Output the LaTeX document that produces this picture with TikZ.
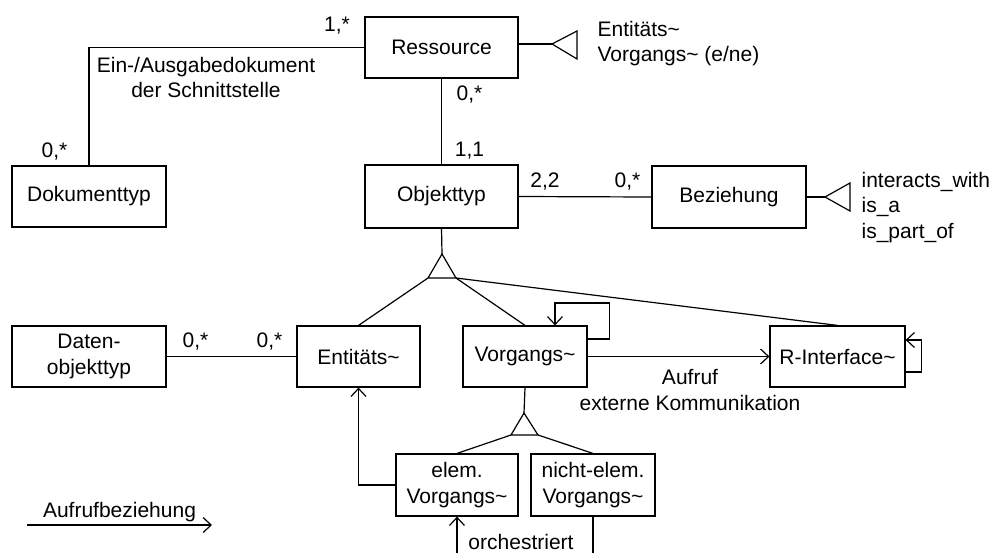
\documentclass[tikz,border=0pt]{standalone}
\usepackage{fontspec}
\setmainfont{Liberation Sans}
\usepackage{tikz}
\usetikzlibrary{arrows.meta,positioning,calc}

\begin{document}
\begin{tikzpicture}[x=1pt, y=-1pt, line width=1.2pt,
  font=\fontsize{21}{25.5}\selectfont,
  box/.style={draw, rectangle, inner sep=0pt, align=center, minimum height=61pt},
  lbl/.style={inner sep=0pt, align=center},
  call/.style={-{Straight Barb[length=8pt,width=15pt]}}]
\useasboundingbox (0,0) rectangle (995,552);
\clip (0,0) rectangle (995,552);

% Classes
\node[box, minimum width=153pt] (res) at (441.5,47.5) {Ressource};
\node[box, minimum width=154pt] (dok) at (89,196.5) {Dokumenttyp};
\node[box, minimum width=153pt, minimum height=63pt] (obj) at (441.5,196.5) {Objekttyp};
\node[box, minimum width=154pt, minimum height=62pt] (bez) at (729,197) {Beziehung};
\node[box, minimum width=154pt] (dat) at (89,356.5) {Daten-\\objekttyp};
\node[box, minimum width=123pt] (ent) at (358.5,356.5) {Entitäts\textasciitilde};
\node[box, minimum width=124pt] (vor) at (525,356.5) {Vorgangs\textasciitilde};
\node[box, minimum width=135pt] (rif) at (837.5,356.5) {R-Interface\textasciitilde};
\node[box, minimum width=122pt, minimum height=62pt] (elem) at (457,485) {elem.\\Vorgangs\textasciitilde};
\node[box, minimum width=124pt, minimum height=62pt] (nelem) at (593,485) {nicht-elem.\\Vorgangs\textasciitilde};

% Type markers (open triangles)
\coordinate (rtip) at (552,44);
\draw (rtip) -- (577,31) -- (577,59) -- cycle;
\node[lbl, align=left, anchor=west] (rtypes) at (597,43.5) {Entitäts\textasciitilde\\Vorgangs\textasciitilde{} (e/ne)};
\draw ([yshift=3.5pt]res.east) -- (rtip);

\coordinate (btip) at (825,197);
\draw (btip) -- (850,183) -- (850,211) -- cycle;
\node[lbl, align=left, anchor=west] (btypes) at (861,207.5) {interacts\_with\\is\_a\\is\_part\_of};
\draw (bez.east) -- (btip);

% Generalisation Objekttyp
\coordinate (g1) at (442,254);
\coordinate (g1l) at (428,278);
\coordinate (g1r) at (456,278);
\draw (g1) -- (g1l) -- (g1r) -- cycle;
\draw (obj.south) -- (g1);
\draw (g1l) -- (ent.north);
\draw (g1r) -- (vor.north);
\draw (g1r) -- (rif.north);

% Generalisation Vorgangs~
\coordinate (g2) at (524,413);
\coordinate (g2l) at (511,435);
\coordinate (g2r) at (538,435);
\draw (g2) -- (g2l) -- (g2r) -- cycle;
\draw (vor.south) -- (g2);
\draw (g2l) -- (elem.north);
\draw (g2r) -- (nelem.north);

% Associations
\draw (res.west) -| (dok.north);
\node[lbl] (m1) at (337,26) {1,*};
\node[lbl] (m2) at (54.5,152) {0,*};
\node[lbl] (asslbl) at (206,77.5) {Ein-/Ausgabedokument\\der Schnittstelle};

\draw (res.south) -- (obj.north);
\node[lbl] (m3) at (469.5,95) {0,*};
\node[lbl] (m4) at (469.5,151) {1,1};

\draw (obj.east) -- (bez.west);
\node[lbl] (m5) at (545,182) {2,2};
\node[lbl] (m6) at (627.5,182) {0,*};

\draw (dat.east) -- (ent.west);
\node[lbl] (m7) at (195.5,342) {0,*};
\node[lbl] (m8) at (269.5,342) {0,*};

% Calls
\draw[call] (vor.east) -- (rif.west);
\node[lbl] (auflbl) at (690,390) {Aufruf\\externe Kommunikation};
\draw[call] ([yshift=17.5pt]vor.east) -| ++(22,-36) -| ([xshift=30pt]vor.north);
\draw[call] ([yshift=-15.5pt]rif.east) -- ++(16,0) |- ([yshift=16.5pt]rif.east);
\draw[call] (elem.west) -| (ent.south);
\draw[call] (nelem.south) -- ++(0,60) -| (elem.south);
\node[lbl] (orchlbl) at (521,542) {orchestriert};

% Legend
\coordinate (lgA) at (27,525);
\coordinate (lgB) at (212,525);
\draw[call] (lgA) -- (lgB);
\node[lbl] (lglbl) at (119.5,512) {Aufrufbeziehung};
\end{tikzpicture}
\end{document}
